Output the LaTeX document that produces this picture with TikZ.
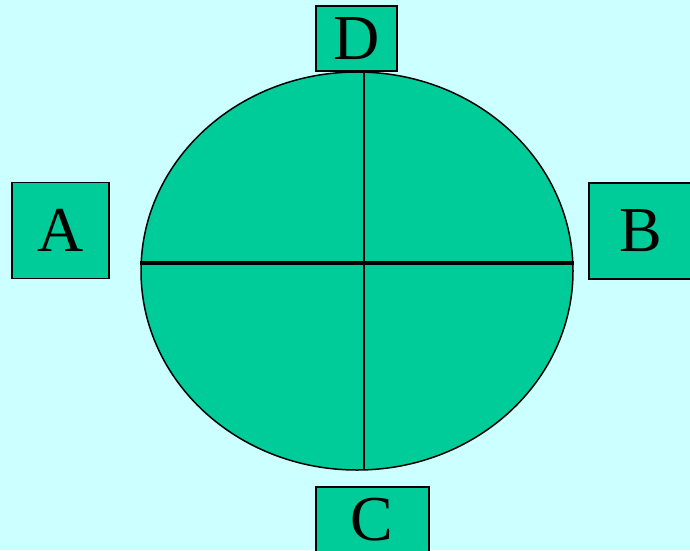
\documentclass[tikz,border=0pt]{standalone}
\usepackage{fontspec}
\setmainfont{Liberation Serif}
\usetikzlibrary{shapes.geometric}
\definecolor{bg}{HTML}{CCFFFF}
\definecolor{fillg}{HTML}{00CC99}
\tikzset{
  lfont/.style={font=\fontsize{64}{64}\selectfont},
  lbox/.style={draw=black, line width=1.6pt, fill=fillg, inner sep=0pt, lfont},
}
\begin{document}
\begin{tikzpicture}[x=1pt,y=-1pt]
\useasboundingbox (0,0) rectangle (690,550);
\clip (0,0) rectangle (690,550);
\fill[bg] (0,0) rectangle (690,550);
\node[ellipse, draw=black, line width=1.5pt, fill=fillg, inner sep=0pt, minimum width=432, minimum height=398] (e) at (357,271) {};
\coordinate (vt) at (364,72);
\coordinate (vb) at (364,470);
\draw[line width=1.3pt] (vt) -- (vb);
\draw[line width=4pt] (e.west |- 0,263) coordinate (hl) -- (e.east |- 0,263) coordinate (hr);
\node[lbox, minimum width=81, minimum height=65] (D) at (356.5,38.5) {D};
\node[lbox, minimum width=97, minimum height=96] (A) at (60.5,230.5) {A};
\node[lbox, minimum width=104, minimum height=96] (B) at (641,231) {B};
\draw[line width=1.6pt, fill=fillg] (316,487) rectangle (429,560);
\node[lfont, inner sep=0pt] (C) at (372,520) {C};
\end{tikzpicture}
\end{document}
